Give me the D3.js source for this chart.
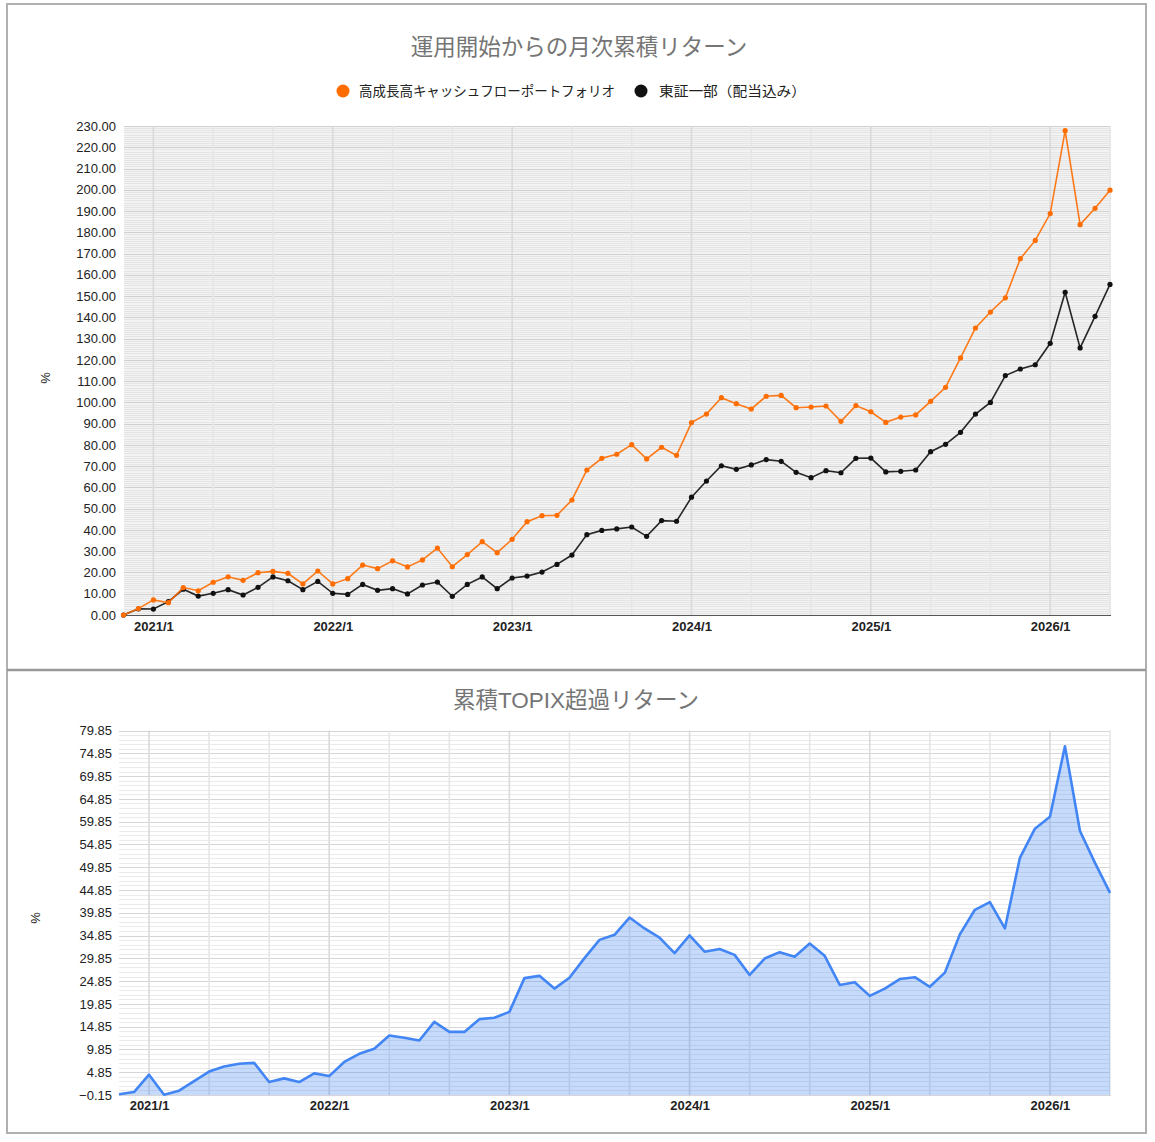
<!DOCTYPE html>
<html><head><meta charset="utf-8">
<script src="https://cdn.jsdelivr.net/npm/d3@7"></script>
<style>
html,body{margin:0;padding:0;background:#fff;}
svg{display:block;font-family:Arial,"Liberation Sans","Noto Sans CJK JP",sans-serif;}
</style></head><body>
<svg id="c" width="1155" height="1142"></svg>
<script>
// ---- data ----
const startYear = 2020, startMonth = 11, monthCount = 67;
const months = [];
for (let i = 0; i < monthCount; i++) {
  const m = (startMonth - 1 + i);
  months.push((startYear + Math.floor(m / 12)) + "/" + (m % 12 + 1));
}
const yearLabels = ["2021/1","2022/1","2023/1","2024/1","2025/1","2026/1"];
const seriesNames = ["高成長高キャッシュフローポートフォリオ","東証一部（配当込み）"];
const portfolio = [0,3.0,7.1,5.8,12.9,11.4,15.4,18.0,16.3,19.9,20.5,19.6,14.6,20.7,14.6,17.1,23.5,21.8,25.5,22.6,25.9,31.5,22.7,28.4,34.5,29.3,35.6,43.9,46.7,46.9,54.1,68.2,73.7,75.6,80.1,73.4,78.9,75.1,90.5,94.5,102.2,99.4,96.9,102.9,103.3,97.5,97.8,98.3,91.1,98.5,95.6,90.6,93.1,94.1,100.5,107.1,120.9,135.0,142.5,149.2,167.6,176.2,188.8,227.8,183.6,191.3,199.8];
const topix = [0,2.9,2.8,6.3,12.1,8.9,10.2,11.9,9.4,13.0,17.9,16.1,11.9,15.8,10.2,9.7,14.4,11.6,12.4,9.9,14.1,15.5,8.8,14.4,17.9,12.4,17.4,18.3,20.2,23.8,28.2,37.8,39.8,40.5,41.4,37.0,44.4,44.1,55.4,63.0,70.2,68.5,70.6,73.1,72.3,67.1,64.6,67.9,66.9,73.7,73.8,67.3,67.6,68.2,76.8,80.3,85.9,94.5,100.0,112.6,115.7,117.7,127.8,151.8,125.6,140.5,155.5];
const excess = [0.0,0.5,4.3,-0.1,0.8,2.9,5.0,6.1,6.7,6.9,2.7,3.5,2.7,4.6,4.0,7.1,8.9,10.0,12.9,12.4,11.8,15.9,13.7,13.7,16.5,16.8,18.1,25.5,26.0,23.2,25.6,29.9,33.9,35.0,38.8,36.4,34.4,31.0,34.9,31.3,31.9,30.6,26.2,29.8,31.2,30.2,33.1,30.4,24.0,24.6,21.6,23.2,25.3,25.7,23.6,26.7,35.1,40.5,42.2,36.4,51.9,58.3,60.9,76.4,57.8,50.8,44.2];
const topTicks = [0,10,20,30,40,50,60,70,80,90,100,110,120,130,140,150,160,170,180,190,200,210,220,230];
const bottomTicks = [-0.15,4.85,9.85,14.85,19.85,24.85,29.85,34.85,39.85,44.85,49.85,54.85,59.85,64.85,69.85,74.85,79.85];
const titles = ["運用開始からの月次累積リターン","累積TOPIX超過リターン"];
const colors = ["#ff6d00","#111111","#4285f4"];

const svg = d3.select("#c");

// frame
svg.append("rect").attr("x",7).attr("y",4).attr("width",1139).attr("height",1129)
  .attr("fill","none").attr("stroke","#b0b0b0").attr("stroke-width",2);
svg.append("line").attr("x1",7).attr("x2",1146).attr("y1",670).attr("y2",670)
  .attr("stroke","#999").attr("stroke-width",2.5);

function drawGrid(g, x, y, L, R, T, B, minorStep, majorTicks, bg, minorColor, majorColor) {
  g.append("rect").attr("x",L).attr("y",T).attr("width",R-L).attr("height",B-T).attr("fill",bg);
  const [d0,d1] = y.domain();
  const minors = d3.range(d0, d1 + 1e-6, minorStep);
  g.selectAll(null).data(minors).join("line")
    .attr("x1",L).attr("x2",R).attr("y1",d=>Math.round(y(d))+0.5).attr("y2",d=>Math.round(y(d))+0.5)
    .attr("stroke",minorColor).attr("stroke-width",1);
  g.selectAll(null).data(majorTicks).join("line")
    .attr("x1",L).attr("x2",R).attr("y1",d=>Math.round(y(d))+0.5).attr("y2",d=>Math.round(y(d))+0.5)
    .attr("stroke",majorColor).attr("stroke-width",1);
  // vertical gridlines every 4 months from 2021/1
  const vIdx = months.filter((m,i)=> i>=2 && (i-2)%4===0);
  g.selectAll(null).data(vIdx).join("line")
    .attr("x1",d=>x(d)).attr("x2",d=>x(d)).attr("y1",T).attr("y2",B)
    .attr("stroke",d=>yearLabels.includes(d)?"#dadada":"#e6e6e6").attr("stroke-width",1.6);
}

function yAxis(g, y, ticks, xr, fmt) {
  const ax = d3.axisLeft(y).tickValues(ticks).tickFormat(fmt).tickSize(0).tickPadding(0);
  const a = g.append("g").attr("transform",`translate(${xr},0)`).call(ax);
  a.select(".domain").remove();
  a.selectAll("text").attr("font-size",13).attr("fill","#222").attr("font-family","Arial,'Liberation Sans',sans-serif");
}
function xAxis(g, x, yPos) {
  const ax = d3.axisBottom(x).tickValues(yearLabels).tickSize(0).tickPadding(0);
  const a = g.append("g").attr("transform",`translate(0,${yPos})`).call(ax);
  a.select(".domain").remove();
  a.selectAll("text").attr("font-size",13).attr("font-weight","bold").attr("fill","#222")
    .attr("font-family","Arial,'Liberation Sans',sans-serif");
}

// ---------- top chart ----------
{
  const L=124, R=1111, T=126, B=615;
  const x = d3.scalePoint().domain(months).range([123.5,1110]);
  const y = d3.scaleLinear().domain([0,230]).range([B,T]);
  const g = svg.append("g");
  drawGrid(g, x, y, L, R, T, B, 1, topTicks, "#f3f3f3", "#e5e5e5", "#d0d0d0");
  g.append("line").attr("x1",L).attr("x2",R).attr("y1",B+0.5).attr("y2",B+0.5).attr("stroke","#555").attr("stroke-width",1.2);
  yAxis(g, y, topTicks, 116, d3.format(".2f"));
  xAxis(g, x, 622);
  g.append("text").attr("x",579).attr("y",55).attr("text-anchor","middle")
    .attr("font-size",22.5).attr("fill","#757575").text(titles[0]);
  g.append("text").attr("transform","translate(50,378) rotate(-90)").attr("text-anchor","middle")
    .attr("font-size",13).attr("fill","#222").text("%");
  // legend
  const leg = [{cx:343, tx:359, w:256, c:colors[0], t:seriesNames[0]},{cx:641, tx:659, w:147, c:colors[1], t:seriesNames[1]}];
  leg.forEach(l=>{
    g.append("circle").attr("cx",l.cx).attr("cy",91).attr("r",6.5).attr("fill",l.c);
    g.append("text").attr("x",l.tx).attr("y",96).attr("font-size",14).attr("fill","#222")
      .attr("textLength",l.w).attr("lengthAdjust","spacingAndGlyphs").text(l.t);
  });
  const line = d3.line().x((d,i)=>x(months[i])).y(d=>y(d));
  [[topix,colors[1]],[portfolio,colors[0]]].forEach(([s,c])=>{
    g.append("path").datum(s).attr("d",line).attr("fill","none").attr("stroke",c).attr("stroke-width",1.6).attr("stroke-opacity",0.9);
    g.selectAll(null).data(s).join("circle").attr("cx",(d,i)=>x(months[i])).attr("cy",d=>y(d)).attr("r",2.6).attr("fill",c);
  });
}

// ---------- bottom chart ----------
{
  const L=119, R=1111, T=730.5, B=1095;
  const x = d3.scalePoint().domain(months).range([119,1110]);
  const y = d3.scaleLinear().domain([-0.15,79.85]).range([B,T]);
  const g = svg.append("g");
  drawGrid(g, x, y, L, R, T, B, 1, bottomTicks, "#ffffff", "#ebebeb", "#d6d6d6");
  yAxis(g, y, bottomTicks, 112, d3.format(".2f"));
  xAxis(g, x, 1101);
  g.append("text").attr("x",576).attr("y",708).attr("text-anchor","middle")
    .attr("font-size",22.5).attr("fill","#757575").text(titles[1]);
  g.append("text").attr("transform","translate(40,918) rotate(-90)").attr("text-anchor","middle")
    .attr("font-size",13).attr("fill","#222").text("%");
  const area = d3.area().x((d,i)=>x(months[i])).y0(y(-0.15)).y1(d=>y(d));
  const line = d3.line().x((d,i)=>x(months[i])).y(d=>y(d));
  g.append("path").datum(excess).attr("d",area).attr("fill",colors[2]).attr("fill-opacity",0.3);
  g.append("path").datum(excess).attr("d",line).attr("fill","none").attr("stroke",colors[2]).attr("stroke-width",2.6).attr("stroke-linejoin","round");
}
</script>
</body></html>
